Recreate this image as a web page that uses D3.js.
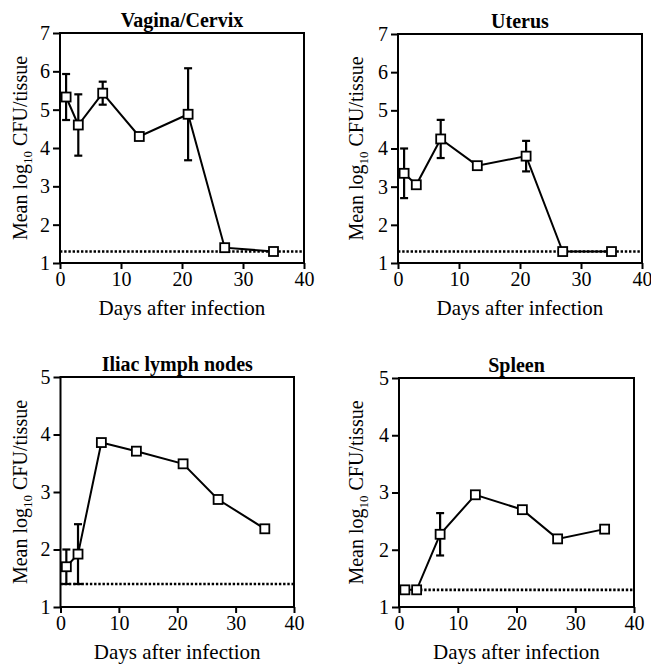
<!DOCTYPE html>
<meta charset="utf-8">
<style>
body { margin: 0; background: #fff; }
svg, svg text { font-family: "Liberation Serif", "Times New Roman", serif; }
.axis path, .axis line { stroke: #000; stroke-width: 2; }
.axis text { font-size: 20px; fill: #000; font-family: "Liberation Serif", serif; }
</style>
<body>
<script src="https://cdn.jsdelivr.net/npm/d3@7"></script>
<script>
// values
var days = [1, 3, 7, 13, 21, 27, 35];

var vaginaMean = [5.33, 4.6, 5.43, 4.3, 4.88, 1.4, 1.3];
var vaginaErr  = [0.6, 0.8, 0.3, 0, 1.2, 0, 0];

var uterusMean = [3.35, 3.05, 4.25, 3.55, 3.8, 1.3, 1.3];
var uterusErr  = [0.65, 0, 0.5, 0, 0.4, 0, 0];

var iliacMean = [1.7, 1.92, 3.86, 3.71, 3.49, 2.87, 2.36];
var iliacErr  = [0.3, 0.52, 0, 0, 0, 0, 0];

var spleenMean = [1.3, 1.3, 2.27, 2.96, 2.7, 2.19, 2.36];
var spleenErr  = [0, 0, 0.37, 0, 0, 0, 0];

var xTicks = [0, 10, 20, 30, 40];
var yTicksHigh = [1, 2, 3, 4, 5, 6, 7];
var yTicksLow = [1, 2, 3, 4, 5];

var width = 651, height = 666;

var svg = d3.select("body").append("svg")
    .attr("width", width)
    .attr("height", height);

// one panel
function drawPanel(p) {
  var x = d3.scaleLinear().domain([0, 40]).range([p.left, p.right]);
  var y = d3.scaleLinear().domain(p.yDomain).range([p.bottom, p.top]);
  var g = svg.append("g");

  // box
  g.append("rect")
    .attr("x", p.left).attr("y", p.top)
    .attr("width", p.right - p.left).attr("height", p.bottom - p.top)
    .attr("fill", "none").attr("stroke", "#000").attr("stroke-width", 2);

  g.append("g").attr("class", "axis")
    .attr("transform", "translate(0," + p.bottom + ")")
    .call(d3.axisBottom(x).tickValues(xTicks).tickFormat(d3.format("d"))
      .tickSize(6).tickPadding(3).tickSizeOuter(0));

  g.append("g").attr("class", "axis")
    .attr("transform", "translate(" + p.left + ",0)")
    .call(d3.axisLeft(y).tickValues(p.yTicks).tickFormat(d3.format("d"))
      .tickSize(7).tickPadding(3).tickSizeOuter(0));

  g.selectAll(".axis .domain").remove();

  // detection limit
  g.append("line")
    .attr("x1", p.left).attr("x2", p.right)
    .attr("y1", y(p.limit)).attr("y2", y(p.limit))
    .attr("stroke", "#000").attr("stroke-width", 2.6)
    .attr("stroke-dasharray", "2.4,1.8");

  var pts = days.map(function(d, i) { return { x: d, m: p.mean[i], e: p.err[i] }; });

  // error bars
  var eb = g.selectAll(".eb").data(pts.filter(function(d) { return d.e > 0; }))
    .enter().append("g");
  eb.append("line")
    .attr("x1", function(d) { return x(d.x); }).attr("x2", function(d) { return x(d.x); })
    .attr("y1", function(d) { return y(d.m + d.e); }).attr("y2", function(d) { return y(d.m - d.e); })
    .attr("stroke", "#000").attr("stroke-width", 2.2);
  [1, -1].forEach(function(s) {
    eb.append("line")
      .attr("x1", function(d) { return x(d.x) - 4; }).attr("x2", function(d) { return x(d.x) + 4; })
      .attr("y1", function(d) { return y(d.m + s * d.e); }).attr("y2", function(d) { return y(d.m + s * d.e); })
      .attr("stroke", "#000").attr("stroke-width", 2.2);
  });

  g.append("path")
    .datum(pts)
    .attr("fill", "none").attr("stroke", "#000").attr("stroke-width", 2)
    .attr("d", d3.line().x(function(d) { return x(d.x); }).y(function(d) { return y(d.m); }));

  g.selectAll(".pt").data(pts).enter().append("rect")
    .attr("x", function(d) { return x(d.x) - 4.5; })
    .attr("y", function(d) { return y(d.m) - 4.5; })
    .attr("width", 9).attr("height", 9)
    .attr("fill", "#fff").attr("stroke", "#000").attr("stroke-width", 1.8);

  // title
  g.append("text")
    .attr("x", (p.left + p.right) / 2).attr("y", p.top - 6)
    .attr("text-anchor", "middle")
    .attr("font-size", 20).attr("font-weight", "bold")
    .text(p.title);

  // x label
  g.append("text")
    .attr("x", (p.left + p.right) / 2).attr("y", p.bottom + 52)
    .attr("text-anchor", "middle")
    .attr("font-size", 21)
    .text("Days after infection");

  // y label
  var yl = g.append("text")
    .attr("transform", "translate(" + p.yLabelX + "," + (p.top + p.bottom) / 2 + ") rotate(-90)")
    .attr("text-anchor", "middle")
    .attr("font-size", 20);
  yl.append("tspan").text("Mean log");
  yl.append("tspan").attr("font-size", 13).attr("dy", 5).text("10");
  yl.append("tspan").attr("dy", -5).text(" CFU/tissue");
}

drawPanel({ title: "Vagina/Cervix", left: 60, right: 304, top: 33, bottom: 263,
  yDomain: [1, 7], yTicks: yTicksHigh, limit: 1.3, mean: vaginaMean, err: vaginaErr, yLabelX: 27 });
drawPanel({ title: "Uterus", left: 398, right: 642, top: 34, bottom: 263,
  yDomain: [1, 7], yTicks: yTicksHigh, limit: 1.3, mean: uterusMean, err: uterusErr, yLabelX: 363 });
drawPanel({ title: "Iliac lymph nodes", left: 60.5, right: 294, top: 377, bottom: 607,
  yDomain: [1, 5], yTicks: yTicksLow, limit: 1.4, mean: iliacMean, err: iliacErr, yLabelX: 27 });
drawPanel({ title: "Spleen", left: 399, right: 634, top: 378, bottom: 607,
  yDomain: [1, 5], yTicks: yTicksLow, limit: 1.3, mean: spleenMean, err: spleenErr, yLabelX: 363 });
</script>
